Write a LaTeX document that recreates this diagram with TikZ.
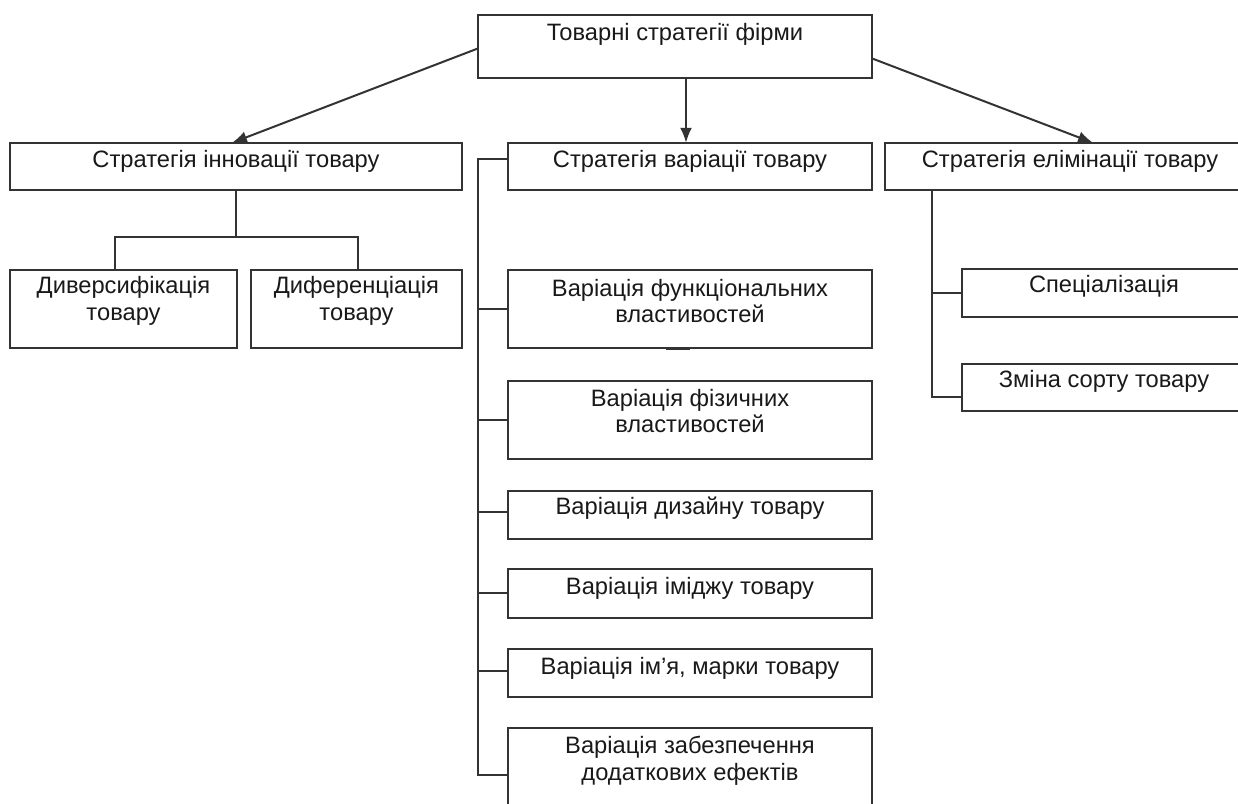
\documentclass[tikz,border=0pt]{standalone}
\usepackage{fontspec}
\setmainfont{Liberation Sans}
\usetikzlibrary{arrows.meta,calc}
\begin{document}
\begin{tikzpicture}[x=1pt,y=-1pt,
  boxline/.style={draw=black!80,line width=2pt,fill=white},
  txt/.style={inner sep=0pt,align=center,text=black!90,font=\fontsize{23.7}{26.5}\selectfont},
  conn/.style={draw=black!80,line width=2pt},
  arr/.style={conn,-{Latex[length=15pt,width=12pt]}}]
\useasboundingbox (0,0) rectangle (1238,803);
\newcommand{\bx}[7]{%
  \draw[boxline] (#2,#3) rectangle (#4,#5);
  \node[inner sep=0pt,minimum width={#4-#2},minimum height={#5-#3}] (#1) at ({(#2+#4)/2},{(#3+#5)/2}) {};
  \node[txt] (#1t) at ({(#2+#4)/2},#6) {#7};}
\bx{top}{478}{15}{872}{78}{34}{Товарні стратегії фірми}
\bx{inn}{10}{143}{462}{190}{161}{Стратегія інновації товару}
\bx{div}{10}{270}{237}{348}{301}{Диверсифікація\\товару}
\bx{dif}{251}{270}{462}{348}{301}{Диференціація\\товару}
\bx{var}{508}{143}{872}{190}{161}{Стратегія варіації товару}
\bx{fa}{508}{270}{872}{348}{301}{Варіація функціональних\\властивостей}
\bx{fb}{508}{381}{872}{459}{411}{Варіація фізичних\\властивостей}
\bx{fc}{508}{491}{872}{539}{508}{Варіація дизайну товару}
\bx{fd}{508}{569}{872}{618}{588}{Варіація іміджу товару}
\bx{fe}{508}{649}{872}{697}{668}{Варіація ім'я, марки товару}
\bx{ff}{508}{728}{872}{840}{761}{Варіація забезпечення\\додаткових ефектів}
\bx{el}{885}{143}{1255}{190}{161}{Стратегія елімінації товару}
\bx{sp}{962}{269}{1246}{317}{286}{Спеціалізація}
\bx{zm}{962}{364}{1246}{411}{381}{Зміна сорту товару}
% small thick mark at bottom of fa
\draw[conn,line width=3pt] (666,348.5) -- (690,348.5);
% arrows from top
\draw[arr] ($(top.west)+(0,2)$) -- (inn.north -| 232,0);
\draw[arr] (top.south -| 686,0) -- (var.north -| 686,0);
\draw[arr] ($(top.east)+(0,12)$) -- (el.north -| 1093,0);
% innovation tree
\coordinate (ij) at (236,237);
\draw[conn] (inn.south -| ij) -- (ij);
\draw[conn] (div.north -| 115,0) -- (115,237) -- (358,237) -- (dif.north -| 358,0);
% variation bracket
\coordinate (vb) at (478,159);
\coordinate (ve) at (478,775);
\draw[conn] (var.west |- vb) -- (vb) -- (ve) -- (ff.west |- ve);
\foreach \n/\yy in {fa/309,fb/420,fc/512,fd/593,fe/671}
  \draw[conn] (478,\yy) -- (\n.west |- 0,\yy);
% elimination bracket
\coordinate (eb) at (932,397);
\draw[conn] (el.south -| eb) -- (eb) -- (zm.west |- eb);
\draw[conn] (932,293) -- (sp.west |- 0,293);
\end{tikzpicture}
\end{document}
